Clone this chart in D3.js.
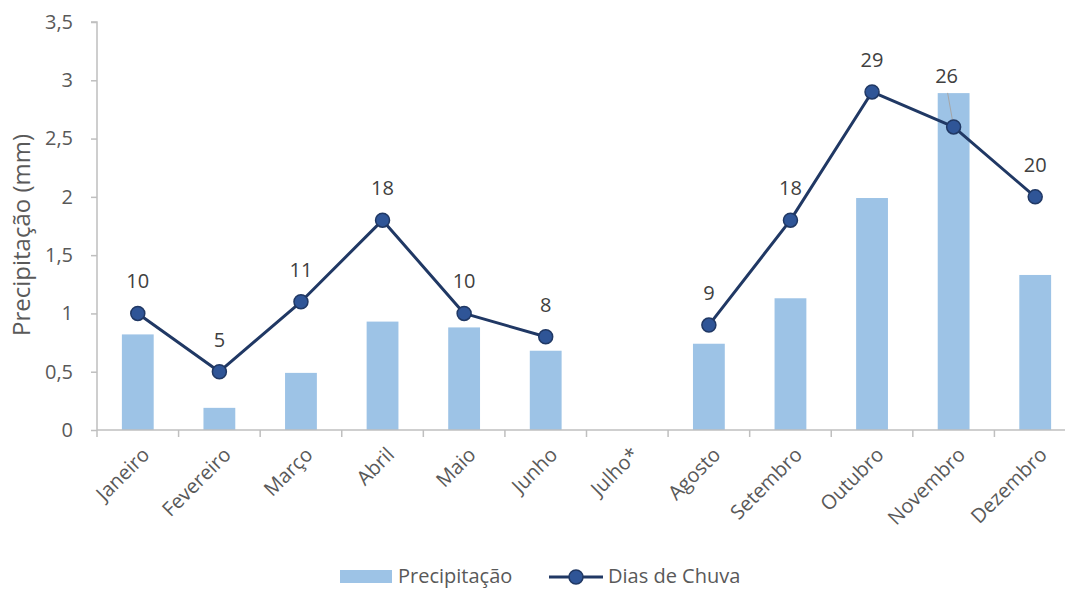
<!DOCTYPE html>
<html>
<head>
<meta charset="utf-8">
<script src="https://cdn.jsdelivr.net/npm/d3@7"></script>
<style>
  body { margin: 0; background: #fff; }
  text { font-family: "Open Sans", sans-serif; }
</style>
</head>
<body>
<div id="chart"></div>
<script>
const months = ["Janeiro", "Fevereiro", "Março", "Abril", "Maio", "Junho", "Julho*", "Agosto", "Setembro", "Outubro", "Novembro", "Dezembro"]
const precipitation = [0.82, 0.19, 0.49, 0.93, 0.88, 0.68, null, 0.74, 1.13, 1.99, 2.89, 1.33]
const rainyDays = [10, 5, 11, 18, 10, 8, null, 9, 18, 29, 26, 20]
const yTicks = [0, 0.5, 1, 1.5, 2, 2.5, 3, 3.5]

const width = 1065
const height = 589
const plotLeft = 97
const plotRight = 1076   // plot area runs past the picture edge, like the original
const plotTop = 22
const plotBottom = 430
const fontSize = "20px"

const svg = d3.select("#chart").append("svg").attr("width", width).attr("height", height)

const x = d3.scaleBand().domain(months).range([plotLeft, plotRight])
const y = d3.scaleLinear().domain([0, 3.5]).range([plotBottom, plotTop])
// days are drawn on a hidden secondary scale (0..35)
const yDays = d3.scaleLinear().domain([0, 35]).range([plotBottom, plotTop])

const fmt = (v) => String(v).replace(".", ",")

// y axis
const yAxis = svg.append("g")
    .attr("transform", `translate(${plotLeft}, 0)`)
    .call(d3.axisLeft(y).tickValues(yTicks).tickFormat(fmt).tickSize(6).tickPadding(18))
yAxis.select(".domain").attr("stroke", "#bfbfbf").attr("stroke-width", 1.5).attr("d", `M-6,${plotTop}H0V${plotBottom}`)
yAxis.selectAll(".tick line").attr("stroke", "#bfbfbf").attr("stroke-width", 1.5)
yAxis.selectAll(".tick text").attr("fill", "#595959").style("font-size", fontSize)

// bars
svg.append("g").selectAll("rect")
    .data(months.map((m, i) => ({ m, v: precipitation[i] })).filter((d) => d.v != null))
    .enter()
    .append("rect")
    .attr("x", (d) => x(d.m) + x.bandwidth() * 0.305)
    .attr("width", x.bandwidth() * 0.39)
    .attr("y", (d) => y(d.v))
    .attr("height", (d) => y(0) - y(d.v))
    .attr("fill", "#9dc3e6")

// x axis
const xAxis = svg.append("g")
    .attr("transform", `translate(0, ${plotBottom})`)
    .call(d3.axisBottom(x).tickSize(0).tickFormat(""))
xAxis.select(".domain").attr("stroke", "#bfbfbf").attr("stroke-width", 1.5).attr("d", `M${plotLeft},0H${plotRight}`)
xAxis.selectAll(".tick").remove()
const edges = months.map((m) => x(m)).concat([plotRight])
svg.append("g").selectAll("line")
    .data(edges)
    .enter()
    .append("line")
    .attr("x1", (d) => d).attr("x2", (d) => d)
    .attr("y1", plotBottom).attr("y2", plotBottom + 7)
    .attr("stroke", "#bfbfbf").attr("stroke-width", 1.5)

svg.append("g").selectAll("text")
    .data(months)
    .enter()
    .append("text")
    .attr("transform", (d) => `translate(${x(d) + x.bandwidth() / 2 + 8}, ${plotBottom + 21}) rotate(-45)`)
    .attr("text-anchor", "end")
    .attr("dy", "0.35em")
    .attr("fill", "#595959")
    .style("font-size", fontSize)
    .text((d) => d)

// axis title
svg.append("text")
    .attr("transform", `translate(22, ${(plotTop + plotBottom) / 2 + 9}) rotate(-90)`)
    .attr("text-anchor", "middle")
    .attr("dy", "0.35em")
    .attr("fill", "#595959")
    .style("font-size", "24px")
    .text("Precipitação (mm)")

// line of rainy days, broken at the missing month
const pts = months.map((m, i) => ({ m, v: rainyDays[i] }))
const line = d3.line()
    .x((d) => x(d.m) + x.bandwidth() / 2)
    .y((d) => yDays(d.v))
svg.append("path")
    .attr("fill", "none")
    .attr("stroke", "#203864")
    .attr("stroke-width", 3)
    .attr("stroke-linejoin", "round")
    .attr("d", line(pts.filter((d, i) => d.v != null && i < 6)))
svg.append("path")
    .attr("fill", "none")
    .attr("stroke", "#203864")
    .attr("stroke-width", 3)
    .attr("stroke-linejoin", "round")
    .attr("d", line(pts.filter((d, i) => d.v != null && i > 6)))

// leader line for Novembro label
const nov = pts[10]
svg.append("line")
    .attr("x1", x(nov.m) + x.bandwidth() / 2 - 6).attr("y1", yDays(nov.v) - 34)
    .attr("x2", x(nov.m) + x.bandwidth() / 2).attr("y2", yDays(nov.v))
    .attr("stroke", "#a6a6a6").attr("stroke-width", 1)

svg.append("g").selectAll("circle")
    .data(pts.filter((d) => d.v != null))
    .enter()
    .append("circle")
    .attr("cx", (d) => x(d.m) + x.bandwidth() / 2)
    .attr("cy", (d) => yDays(d.v))
    .attr("r", 7)
    .attr("fill", "#2f5597")
    .attr("stroke", "#203864")
    .attr("stroke-width", 1.5)

svg.append("g").selectAll("text")
    .data(pts.filter((d) => d.v != null))
    .enter()
    .append("text")
    .attr("x", (d) => x(d.m) + x.bandwidth() / 2 - (d.m === "Novembro" ? 7 : 0))
    .attr("y", (d) => yDays(d.v) - (d.m === "Novembro" ? 44 : 25))
    .attr("text-anchor", "middle")
    .attr("fill", "#404040")
    .style("font-size", fontSize)
    .text((d) => d.v)

// legend
const legend = svg.append("g").attr("transform", "translate(0, 576)")
legend.append("rect").attr("x", 340).attr("y", -6).attr("width", 52).attr("height", 13).attr("fill", "#9dc3e6")
legend.append("text").attr("x", 398).attr("dy", "0.35em").attr("fill", "#595959").style("font-size", fontSize).text("Precipitação")
legend.append("line").attr("x1", 549).attr("x2", 603).attr("y1", 1).attr("y2", 1).attr("stroke", "#203864").attr("stroke-width", 3)
legend.append("circle").attr("cx", 576).attr("cy", 1).attr("r", 7).attr("fill", "#2f5597").attr("stroke", "#203864").attr("stroke-width", 1.5)
legend.append("text").attr("x", 608).attr("dy", "0.35em").attr("fill", "#595959").style("font-size", fontSize).text("Dias de Chuva")
</script>
</body>
</html>
